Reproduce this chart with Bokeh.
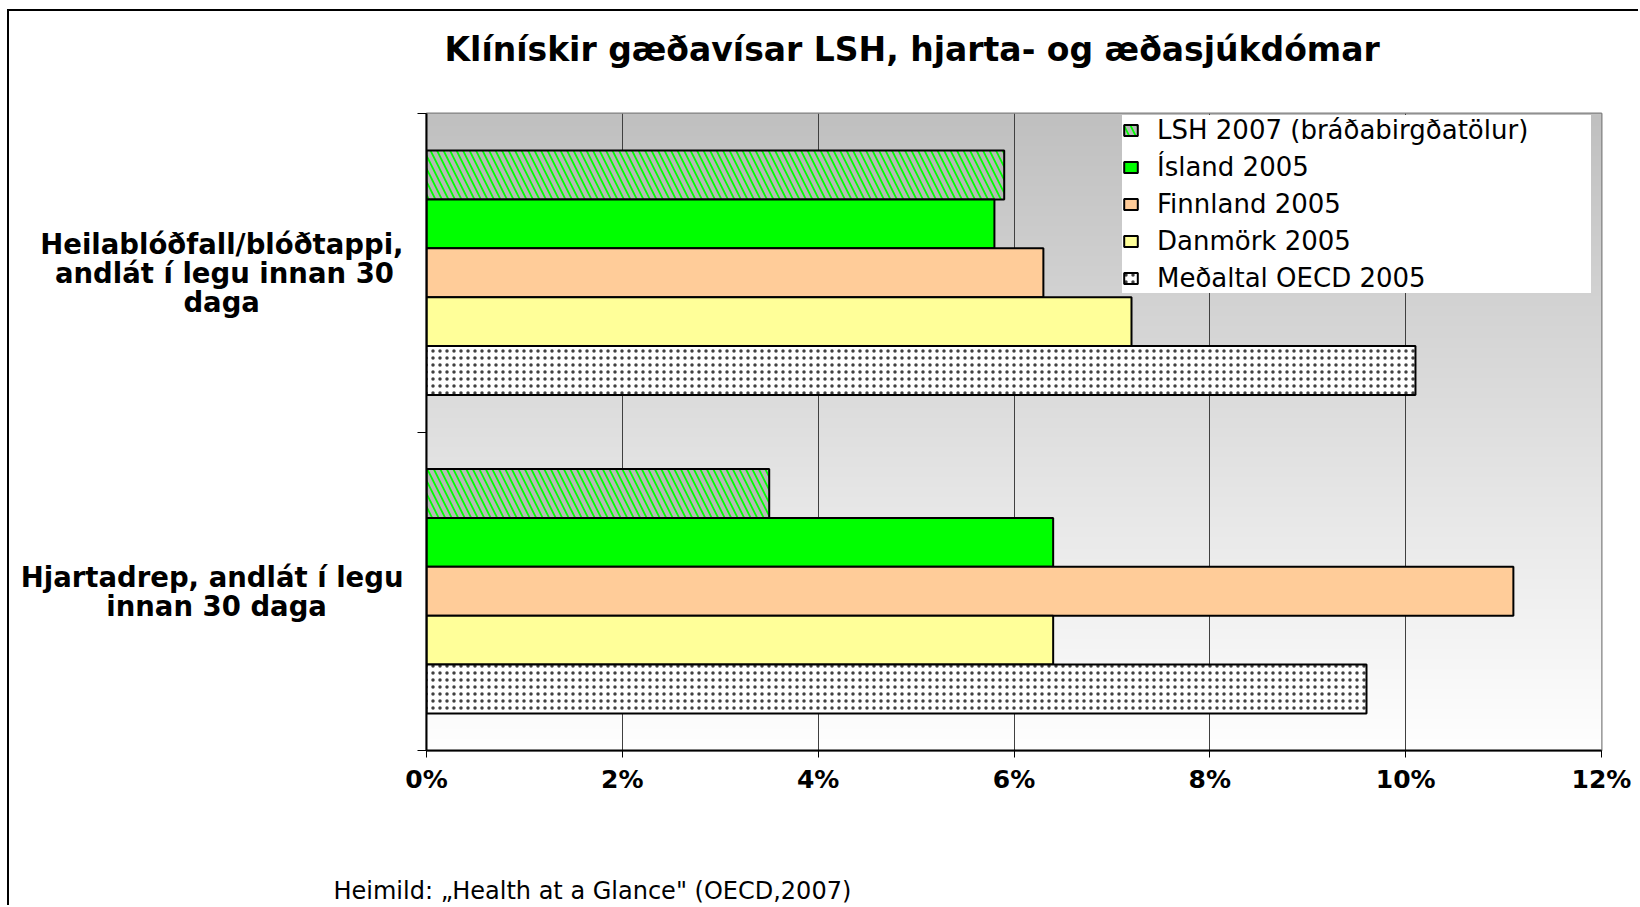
import numpy as np
from bokeh.plotting import figure
from bokeh.models import (Range1d, LinearAxis, FixedTicker,
                          Legend, LegendItem, Title, ColumnDataSource)
from bokeh.transform import dodge
from bokeh.embed import file_html
from bokeh.resources import INLINE

# ---------------- data ----------------
categories = ["Heilablóðfall/blóðtappi,\nandlát í legu innan 30\ndaga",
              "Hjartadrep, andlát í legu\ninnan 30 daga"]
series_names = ["LSH 2007 (bráðabirgðatölur)", "Ísland 2005", "Finnland 2005",
                "Danmörk 2005", "Meðaltal OECD 2005"]
lsh_2007 = [5.9, 3.5]
island_2005 = [5.8, 6.4]
finnland_2005 = [6.3, 11.1]
danmork_2005 = [7.2, 6.4]
oecd_2005 = [10.1, 9.6]
x_ticks = [0, 2, 4, 6, 8, 10, 12]
x_tick_labels = ["0%", "2%", "4%", "6%", "8%", "10%", "12%"]
title_text = "Klínískir gæðavísar LSH, hjarta- og æðasjúkdómar"
source_text = "Heimild: \u201eHealth at a Glance\" (OECD,2007)"

# ---------------- figure ----------------
FONT = "DejaVu Sans"
NBSP = "\u00a0"
ncat = len(categories)
cat_pos = [ncat - i - 0.5 for i in range(ncat)]          # first category on top
x_min, x_max = x_ticks[0], x_ticks[-1]
p = figure(width=1631, height=896, output_backend="svg", toolbar_location=None,
           y_range=Range1d(0, ncat), x_range=Range1d(x_min, x_max), y_axis_location=None,
           min_border_left=417, min_border_right=39, min_border_top=102, min_border_bottom=157,
           background_fill_color="white", border_fill_color="white")
p.styles = {"margin-left": "7px", "margin-top": "9px",
            "border-left": "2px solid black", "border-top": "2px solid black"}

# gradient plot-area background (grey at top -> white at bottom)
n = 256
levels = np.linspace(255, 192, n).astype(np.uint32)
img = np.zeros((n, 1), dtype=np.uint32)
view = img.view(dtype=np.uint8).reshape((n, 1, 4))
view[:, 0, 0] = levels
view[:, 0, 1] = levels
view[:, 0, 2] = levels
view[:, 0, 3] = 255
bg = p.image_rgba(image=[img], x=x_min, y=0, dw=x_max - x_min, dh=ncat)
bg.level = "image"

# y axis: ticks at category boundaries, no labels
tick_axis = LinearAxis(ticker=FixedTicker(ticks=list(range(ncat + 1))),
                       major_label_overrides={i: "" for i in range(ncat + 1)},
                       major_label_standoff=0, major_label_text_font_size="1px",
                       major_tick_out=9, major_tick_in=0, minor_tick_line_color=None,
                       axis_line_color="black", axis_line_width=2,
                       major_tick_line_color="black", major_tick_line_width=1)
p.add_layout(tick_axis, "left")

# category labels: lines centred inside a right-aligned block (trailing no-break spaces)
line_pads = [[0, 1, 15], [0, 8]]
def centred(text, pads):
    return "\n".join(line + NBSP * k for line, k in zip(text.split("\n"), pads))
cat_axis = LinearAxis(ticker=FixedTicker(ticks=cat_pos),
                      major_label_overrides={pos: centred(c, pd)
                                             for pos, c, pd in zip(cat_pos, categories, line_pads)},
                      axis_line_color=None, major_tick_line_color=None,
                      minor_tick_line_color=None, major_label_standoff=8,
                      major_label_text_font=FONT, major_label_text_font_style="bold",
                      major_label_text_font_size="27.5px", major_label_text_color="black",
                      major_label_text_line_height=0.9)
p.add_layout(cat_axis, "left")

# x axis
xa = p.xaxis[0]
xa.ticker = FixedTicker(ticks=x_ticks)
xa.major_label_overrides = {t: l for t, l in zip(x_ticks, x_tick_labels)}
xa.major_label_text_font = FONT
xa.major_label_text_font_style = "bold"
xa.major_label_text_font_size = "25px"
xa.major_label_text_color = "black"
xa.major_label_standoff = 7
xa.major_tick_out = 7
xa.major_tick_in = 0
xa.minor_tick_line_color = None
xa.axis_line_color = "black"
xa.axis_line_width = 2
xa.major_tick_line_color = "black"

p.xgrid.grid_line_color = "#404040"
p.xgrid.grid_line_width = 1
p.ygrid.grid_line_color = None
p.outline_line_color = "#808080"
p.outline_line_width = 2

# bars
src = ColumnDataSource(dict(pos=cat_pos, lsh=lsh_2007, isl=island_2005,
                            fin=finnland_2005, dan=danmork_2005, oecd=oecd_2005))
bar_h = 0.1535
styles = [
    ("lsh", 2 * bar_h, dict(fill_color="#00ff00", hatch_pattern="left_diagonal_line",
                            hatch_color="#b8b8b8", hatch_scale=13, hatch_weight=4)),
    ("isl", bar_h, dict(fill_color="#00ff00")),
    ("fin", 0.0, dict(fill_color="#ffcc99")),
    ("dan", -bar_h, dict(fill_color="#ffff99")),
    ("oecd", -2 * bar_h, dict(fill_color="white", hatch_pattern="dot",
                              hatch_color="black", hatch_scale=7, hatch_weight=0.3,
                              hatch_alpha=0.75)),
]
items = []
for (col, off, st), name in zip(styles, series_names):
    r = p.hbar(y=dodge("pos", off), left=x_min, right=col, height=bar_h,
               source=src, line_color="black", line_width=2, **st)
    items.append(LegendItem(label=name, renderers=[r]))

legend = Legend(items=items, location=(696, 457), padding=5, spacing=7,
                label_height=30, label_width=434, glyph_width=17, glyph_height=14,
                label_standoff=18, margin=0,
                label_text_font=FONT, label_text_font_size="26px",
                label_text_color="black",
                background_fill_color="white", background_fill_alpha=1.0,
                border_line_color=None)
p.add_layout(legend)

# title: a blank spacer panel next to the frame, then the title text above it
p.add_layout(Title(text=" ", text_font_size="1px", standoff=42), "above")
p.add_layout(Title(text=title_text, align="left", offset=18, standoff=0,
                   vertical_align="bottom", text_font=FONT, text_font_style="bold",
                   text_font_size="33px", text_color="black"), "above")

# source note below the axis, after a blank spacer panel
p.add_layout(Title(text=" ", text_font_size="1px", standoff=77), "below")
p.add_layout(Title(text=source_text, align="left", offset=-93, standoff=0,
                   vertical_align="top", text_font=FONT, text_font_style="normal",
                   text_font_size="24px", text_color="black"), "below")

open("out.html", "w").write(file_html(p, INLINE))
